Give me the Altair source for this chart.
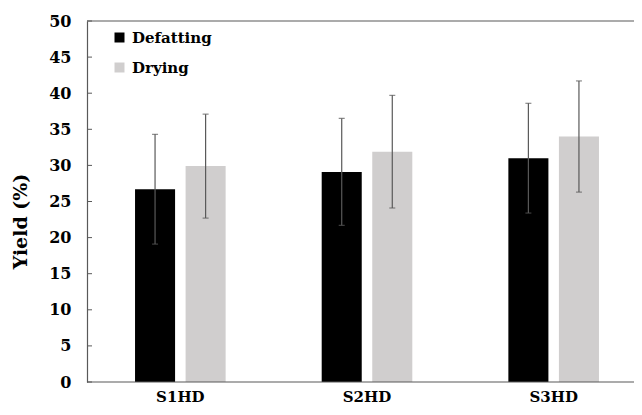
import altair as alt
import pandas as pd

samples = ["S1HD", "S2HD", "S3HD"]
methods = ["Defatting", "Drying"]
defatting = [26.7, 29.1, 31.0]
drying = [29.9, 31.9, 34.0]
defatting_err = [7.6, 7.4, 7.6]
drying_err = [7.2, 7.8, 7.7]
y_ticks = [0, 5, 10, 15, 20, 25, 30, 35, 40, 45, 50]

rows = []
for i, s in enumerate(samples):
    rows.append({"sample": s, "method": "Defatting", "value": defatting[i],
                 "lo": defatting[i] - defatting_err[i], "hi": defatting[i] + defatting_err[i]})
    rows.append({"sample": s, "method": "Drying", "value": drying[i],
                 "lo": drying[i] - drying_err[i], "hi": drying[i] + drying_err[i]})
df = pd.DataFrame(rows)
ticks_df = pd.DataFrame({"t": y_ticks})

FONT = "DejaVu Serif"
AX = "#595959"

x_scale = alt.Scale(domain=samples, range=[0, 560], paddingInner=0, paddingOuter=0)
x_axis = alt.Axis(labelAngle=0, ticks=False, domain=False,
                  labelFont=FONT, labelFontWeight="bold", labelFontSize=15,
                  labelColor="black", labelPadding=7, labelBaseline="top")
y_axis = alt.Axis(values=y_ticks, ticks=False, grid=False, domainColor=AX,
                  domainWidth=1.2, labelOverlap=False,
                  labelFont=FONT, labelFontWeight="bold", labelFontSize=16,
                  labelColor="black", labelPadding=16,
                  titleFont=FONT, titleFontWeight="bold", titleFontSize=19,
                  titleColor="black", titlePadding=18, titleY=200)
y_scale = alt.Scale(domain=[0, 50], nice=False)
TITLE = "Yield (%)"

def xe():
    return alt.X("sample:N", sort=samples, title=None, scale=x_scale, axis=x_axis)

def ye(field):
    return alt.Y(field, scale=y_scale, title=TITLE, axis=y_axis)

xo = alt.XOffset("method:N", sort=methods,
                 scale=alt.Scale(paddingInner=0.208, paddingOuter=0.95))

bars = alt.Chart(df).mark_bar().encode(
    x=xe(),
    xOffset=xo,
    y=ye("value:Q"),
    color=alt.Color("method:N", sort=methods,
                    scale=alt.Scale(domain=methods, range=["#000000", "#d0cece"]),
                    legend=alt.Legend(title=None, orient="none", legendX=25, legendY=9,
                                      symbolType="square", symbolSize=100,
                                      symbolStrokeWidth=0,
                                      labelFont=FONT, labelFontWeight="bold",
                                      labelFontSize=15, labelColor="black",
                                      rowPadding=14, labelOffset=5)),
)

err = alt.Chart(df).mark_rule(color=AX, strokeWidth=1.2).encode(
    x=xe(), xOffset=xo, y=ye("lo:Q"), y2="hi:Q")
cap_lo = alt.Chart(df).mark_tick(color=AX, size=6, thickness=1.2, orient="horizontal").encode(
    x=xe(), xOffset=xo, y=ye("lo:Q"))
cap_hi = alt.Chart(df).mark_tick(color=AX, size=6, thickness=1.2, orient="horizontal").encode(
    x=xe(), xOffset=xo, y=ye("hi:Q"))

yticks = alt.Chart(ticks_df).mark_rule(color=AX, strokeWidth=1).encode(
    y=ye("t:Q"), x=alt.value(0), x2=alt.value(5))

frame = alt.Chart(pd.DataFrame({"b": [0, 50]})).mark_rule(color=AX, strokeWidth=1.2).encode(
    y=ye("b:Q"), x=alt.value(0), x2=alt.value(600))

chart = alt.layer(bars, err, cap_lo, cap_hi, yticks, frame).properties(
    width=547, height=361,
    autosize=alt.AutoSizeParams(type="none"),
    padding={"left": 79, "top": 13, "right": 0, "bottom": 25},
).configure_view(stroke=None)

chart.save("out.html", embed_options={"renderer": "svg", "actions": False})
